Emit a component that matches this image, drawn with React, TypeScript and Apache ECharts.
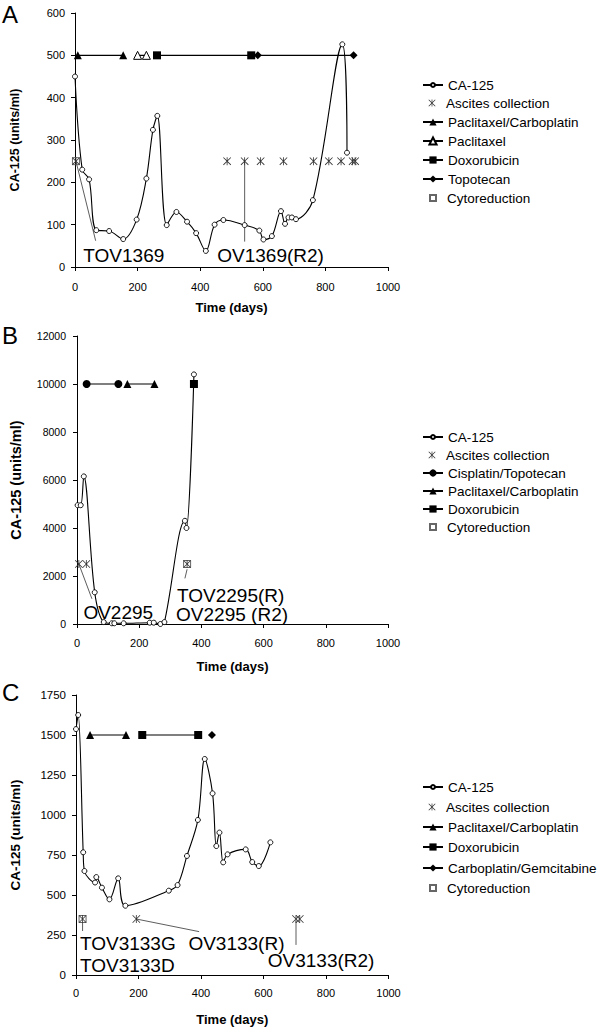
import React, { useEffect, useRef } from "react";
import * as echarts from "echarts";

const FONT = '"Liberation Sans", Arial, Helvetica, sans-serif';

// ---------- Panel A ----------
const A_CA125 = [
  [0, 450], [23, 230], [45, 207], [68, 87], [109, 85], [154, 66], [197, 112], [228, 209],
  [249, 324], [263, 357], [293, 99], [324, 130], [358, 107], [387, 80], [418, 38], [446, 100],
  [474, 111], [542, 99], [589, 86], [602, 65], [629, 73], [658, 132], [671, 102], [682, 117],
  [693, 117], [706, 113], [760, 158], [854, 526], [869, 270],
];
const A_PACLI_CARBO = [[9, 500], [154, 500]];
const A_PACLI = [[200, 500], [228, 500]];
const A_DOXO = [[262, 500], [563, 500]];
const A_TOPO = [[584, 500], [890, 500]];
const A_ASCITES_DAYS = [3, 486, 542, 593, 666, 762, 811, 850, 887, 895];
const A_ASCITES_LEVEL = 250;
const A_CYTO = [[3, 250]];
const A_POINTERS = [
  [[3, 250], [66, 62]],
  [[542, 250], [542, 60]],
];
const A_LABELS: [string, number, number][] = [
  ["TOV1369", 25, 26],
  ["OV1369(R2)", 453, 26],
];

// ---------- Panel B ----------
const B_CA125 = [
  [2, 4950], [12, 4950], [22, 6150], [57, 1320], [86, 80], [112, 30], [120, 30], [150, 30],
  [234, 55], [247, 55], [268, 0], [281, 80], [347, 4300], [352, 4000], [376, 10400],
];
const B_CIS_TOPO = [[31, 10000], [133, 10000]];
const B_PACLI_CARBO = [[162, 10000], [249, 10000]];
const B_DOXO = [[376, 10000]];
const B_ASCITES_DAYS = [6, 30, 354];
const B_ASCITES_LEVEL = 2500;
const B_CYTO = [[354, 2500]];
const B_POINTERS = [
  [[6, 2500], [48, 1050]],
  [[354, 2280], [347, 1900]],
];
const B_LABELS: [string, number, number][] = [
  ["OV2295", 19, 480],
  ["TOV2295(R)", 320, 1200],
  ["OV2295 (R2)", 317, 410],
];

// ---------- Panel C ----------
const C_CA125 = [
  [0, 1537], [7, 1625], [23, 767], [27, 650], [61, 578], [65, 612], [83, 546], [107, 473],
  [135, 604], [158, 433], [297, 527], [325, 562], [355, 744], [390, 969], [412, 1350],
  [437, 1135], [449, 806], [459, 890], [471, 704], [485, 754], [543, 785], [564, 706],
  [585, 681], [622, 829],
];
const C_PACLI_CARBO = [[45, 1500], [160, 1500]];
const C_DOXO = [[212, 1500], [391, 1500]];
const C_CARBO_GEM = [[435, 1500]];
const C_ASCITES_DAYS = [21, 193, 704, 716];
const C_ASCITES_LEVEL = 350;
const C_CYTO = [[21, 350]];
const C_POINTERS = [
  [[21, 330], [21, 275]],
  [[193, 350], [394, 271]],
  [[704, 335], [704, 188]],
];
const C_LABELS: [string, number, number][] = [
  ["TOV3133G", 11, 200],
  ["TOV3133D", 11, 62],
  ["OV3133(R)", 358, 200],
  ["OV3133(R2)", 612, 90],
];

const LEGEND_A = ["CA-125", "Ascites collection", "Paclitaxel/Carboplatin", "Paclitaxel", "Doxorubicin", "Topotecan", "Cytoreduction"];
const LEGEND_B = ["CA-125", "Ascites collection", "Cisplatin/Topotecan", "Paclitaxel/Carboplatin", "Doxorubicin", "Cytoreduction"];
const LEGEND_C = ["CA-125", "Ascites collection", "Paclitaxel/Carboplatin", "Doxorubicin", "Carboplatin/Gemcitabine", "Cytoreduction"];

const ASTERISK =
  "path://M4.5 0L5.5 0L5.5 10L4.5 10Z M0.7 0L10 9.3L9.3 10L0 0.7Z M9.3 0L10 0.7L0.7 10L0 9.3Z";

function caSeries(data: number[][], gi: number) {
  return {
    type: "line",
    name: "CA-125",
    xAxisIndex: gi,
    yAxisIndex: gi,
    data,
    smooth: 0.35,
    symbol: "circle",
    symbolSize: 5,
    showAllSymbol: true,
    lineStyle: { color: "#000", width: 1.1 },
    itemStyle: { color: "#fff", borderColor: "#000", borderWidth: 0.9 },
    z: 5,
    silent: true,
  };
}

function treatSeries(name: string, data: number[][], gi: number, symbol: string, size: number, fill: string) {
  return {
    type: "line",
    name,
    xAxisIndex: gi,
    yAxisIndex: gi,
    data,
    symbol,
    symbolSize: size,
    showAllSymbol: true,
    lineStyle: { color: "#000", width: 1.1 },
    itemStyle: { color: fill, borderColor: "#000", borderWidth: fill === "#fff" ? 1 : 0 },
    z: 4,
    silent: true,
  };
}

function ascitesSeries(days: number[], level: number, gi: number) {
  return {
    type: "scatter",
    name: "Ascites collection",
    xAxisIndex: gi,
    yAxisIndex: gi,
    data: days.map((d) => [d, level]),
    symbol: ASTERISK,
    symbolSize: 8,
    itemStyle: { color: "#333", opacity: 1 },
    z: 4,
    silent: true,
  };
}

function cytoSeries(data: number[][], gi: number) {
  return {
    type: "scatter",
    name: "Cytoreduction",
    xAxisIndex: gi,
    yAxisIndex: gi,
    data,
    symbol: "rect",
    symbolSize: 7,
    itemStyle: { color: "rgba(255,255,255,0)", borderColor: "#666", borderWidth: 1, opacity: 1 },
    z: 3,
    silent: true,
  };
}

function pointerSeries(pointers: number[][][], gi: number) {
  return pointers.map((p) => ({
    type: "line",
    xAxisIndex: gi,
    yAxisIndex: gi,
    data: p,
    symbol: "none",
    lineStyle: { color: "#333", width: 0.8 },
    z: 2,
    silent: true,
  }));
}

function labelSeries(labels: [string, number, number][], gi: number) {
  return {
    type: "scatter",
    xAxisIndex: gi,
    yAxisIndex: gi,
    symbolSize: 1,
    itemStyle: { color: "rgba(0,0,0,0)", opacity: 1 },
    data: labels.map(([t, x, y]) => ({ value: [x, y], label: { formatter: t } })),
    label: {
      show: true,
      position: "right",
      distance: 0,
      fontSize: 19,
      lineHeight: 16,
      color: "#000",
      fontFamily: FONT,
    },
    z: 6,
    silent: true,
  };
}

function xAxis(gi: number, margin: number, nameGap: number) {
  return {
    type: "value",
    gridIndex: gi,
    min: 0,
    max: 1000,
    interval: 200,
    name: "Time (days)",
    nameLocation: "middle",
    nameGap,
    nameTextStyle: { fontWeight: "bold", fontSize: 13, color: "#000", fontFamily: FONT },
    axisLine: { show: true, lineStyle: { color: "#000", width: 1 } },
    axisTick: { show: true, length: 4, lineStyle: { color: "#000" } },
    axisLabel: { fontSize: 11, color: "#000", margin, fontFamily: FONT, formatter: (v: number) => String(v) },
    splitLine: { show: false },
  };
}

function yAxis(gi: number, max: number, interval: number, nameSize: number, labelSize: number, margin: number) {
  return {
    type: "value",
    gridIndex: gi,
    min: 0,
    max,
    interval,
    name: "CA-125 (units/ml)",
    nameLocation: "middle",
    nameGap: 54,
    nameTextStyle: { fontWeight: "bold", fontSize: nameSize, color: "#000", fontFamily: FONT },
    axisLine: { show: true, lineStyle: { color: "#000", width: 1 } },
    axisTick: { show: true, length: 4, lineStyle: { color: "#000" } },
    axisLabel: { fontSize: labelSize, color: "#000", margin, fontFamily: FONT, formatter: (v: number) => String(v) },
    splitLine: { show: false },
  };
}

function legendItems(names: string[], centers: number[]) {
  return names.map((n, i) => {
    const base: any = {
      orient: "vertical",
      left: 422,
      top: centers[i] - 7,
      padding: 0,
      itemWidth: 20,
      itemHeight: 9,
      selectedMode: false,
      textStyle: { fontSize: 13.5, color: "#000", lineHeight: 14, fontFamily: FONT },
    };
    if (n === "CA-125") {
      base.itemHeight = 5;
      base.data = [n];
    } else if (n === "Ascites collection" || n === "Cytoreduction") {
      const s = n === "Cytoreduction" ? 6 : 7;
      base.itemWidth = s;
      base.itemHeight = s;
      base.left = 432 - s / 2;
      base.textStyle = { ...base.textStyle, padding: [0, 0, 0, 446 - (432 - s / 2) - s - 5] };
      base.data = [{ name: n, icon: n === "Cytoreduction" ? "rect" : ASTERISK }];
    } else {
      base.data = [n];
    }
    return base;
  });
}

export default function App() {
  const ref = useRef<HTMLDivElement>(null);
  useEffect(() => {
    if (!ref.current) return;
    const chart = echarts.init(ref.current, null, { renderer: "svg" });
    const option: any = {
      animation: false,
      textStyle: { fontFamily: FONT },
      grid: [
        { left: 72, top: 13, width: 316, height: 254 },
        { left: 72, top: 336, width: 316, height: 288 },
        { left: 72.5, top: 695, width: 316, height: 280 },
      ],
      xAxis: [xAxis(0, 14, 34), xAxis(1, 13, 36), xAxis(2, 12.5, 38)],
      yAxis: [
        yAxis(0, 600, 100, 12.5, 11, 10),
        yAxis(1, 12000, 2000, 14.5, 10.5, 11),
        yAxis(2, 1750, 250, 13.5, 11.5, 10),
      ],
      legend: [
        ...legendItems(LEGEND_A, [85, 103, 122, 141, 160, 179, 198]),
        ...legendItems(LEGEND_B, [437, 455, 473, 491, 509, 527]),
        ...legendItems(LEGEND_C, [787, 807, 827, 847, 868, 888]),
      ],
      graphic: [
        { type: "text", left: 2, top: 2, style: { text: "A", fontSize: 24, fill: "#000", fontFamily: FONT } },
        { type: "text", left: 2, top: 323, style: { text: "B", fontSize: 24, fill: "#000", fontFamily: FONT } },
        { type: "text", left: 2, top: 680, style: { text: "C", fontSize: 24, fill: "#000", fontFamily: FONT } },
      ],
      series: [
        // A
        ...pointerSeries(A_POINTERS, 0),
        cytoSeries(A_CYTO, 0),
        ascitesSeries(A_ASCITES_DAYS, A_ASCITES_LEVEL, 0),
        treatSeries("Paclitaxel/Carboplatin", A_PACLI_CARBO, 0, "triangle", 8, "#000"),
        treatSeries("Paclitaxel", A_PACLI, 0, "triangle", 8, "#fff"),
        treatSeries("Doxorubicin", A_DOXO, 0, "rect", 8, "#000"),
        treatSeries("Topotecan", A_TOPO, 0, "diamond", 8, "#000"),
        caSeries(A_CA125, 0),
        labelSeries(A_LABELS, 0),
        // B
        ...pointerSeries(B_POINTERS, 1),
        cytoSeries(B_CYTO, 1),
        ascitesSeries(B_ASCITES_DAYS, B_ASCITES_LEVEL, 1),
        treatSeries("Cisplatin/Topotecan", B_CIS_TOPO, 1, "circle", 8, "#000"),
        treatSeries("Paclitaxel/Carboplatin", B_PACLI_CARBO, 1, "triangle", 8, "#000"),
        treatSeries("Doxorubicin", B_DOXO, 1, "rect", 8, "#000"),
        caSeries(B_CA125, 1),
        labelSeries(B_LABELS, 1),
        // C
        ...pointerSeries(C_POINTERS, 2),
        cytoSeries(C_CYTO, 2),
        ascitesSeries(C_ASCITES_DAYS, C_ASCITES_LEVEL, 2),
        treatSeries("Paclitaxel/Carboplatin", C_PACLI_CARBO, 2, "triangle", 8, "#000"),
        treatSeries("Doxorubicin", C_DOXO, 2, "rect", 8, "#000"),
        treatSeries("Carboplatin/Gemcitabine", C_CARBO_GEM, 2, "diamond", 8, "#000"),
        caSeries(C_CA125, 2),
        labelSeries(C_LABELS, 2),
      ],
    };
    chart.setOption(option);
    return () => chart.dispose();
  }, []);
  return (
    <div
      ref={ref}
      style={{ position: "fixed", left: 0, top: 0, width: 600, height: 1028, background: "#fff" }}
    />
  );
}
